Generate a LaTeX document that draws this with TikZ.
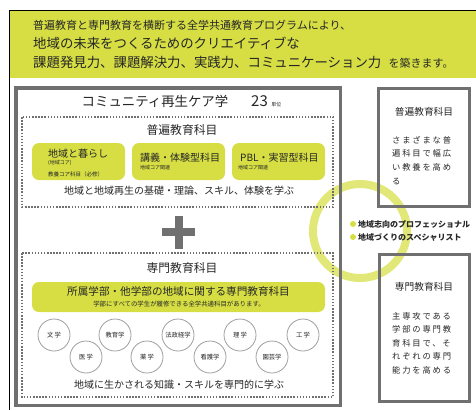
\documentclass[tikz,border=0pt]{standalone}
\usepackage{fontspec}
\setmainfont{Noto Sans CJK JP}
\newfontfamily\jpspaced[LetterSpace=22]{Noto Sans CJK JP}
\definecolor{bandyellow}{RGB}{214,222,68}
\definecolor{ringyellow}{RGB}{226,232,120}
\definecolor{framegray}{RGB}{112,112,112}
\definecolor{textdark}{RGB}{38,38,38}
\newcommand{\jpsize}[1]{\fontsize{#1}{#1}\selectfont}

\begin{document}
\begin{tikzpicture}[x=1pt,y=-1pt,
  every node/.style={inner sep=0pt,text=textdark},
  bigframe/.style={draw=framegray,line width=3.5pt},
  sideframe/.style={draw=framegray,line width=3pt},
  dotframe/.style={draw=framegray,line width=1.8pt,dash pattern=on 1.5pt off 1.6pt},
  corebox/.style={fill=bandyellow,rounded corners=7pt},
  faculty/.style={circle,draw=gray!75,fill=white,line width=0.8pt,minimum size=32pt,font=\jpsize{6.3}},
  sidetext/.style={anchor=north west,align=left,font=\jpspaced\fontsize{8.3}{13.6}\selectfont}]
\useasboundingbox (0,0) rectangle (476,410);

% ring behind everything
\draw[ringyellow,line width=8pt] (360,231) circle[radius=47];

% lead band
\fill[bandyellow] (9,10) rectangle (476,78);
\draw[black,line width=0.8pt] (9,410) -- (9,10) -- (476,10);
\node[anchor=west,font=\jpsize{11}] (lead) at (33,25) {普遍教育と専門教育を横断する全学共通教育プログラムにより、};
\node[anchor=west,font=\jpsize{13.4}] (vision) at (33,43) {地域の未来をつくるためのクリエイティブな};
\node[anchor=west,font=\jpsize{13.4}] (skills) at (33,62) {課題発見力、課題解決力、実践力、コミュニケーション力};
\node[anchor=base west,font=\jpsize{11}] (build) at ([xshift=7pt]skills.base east) {を築きます。};

% program frame
\draw[bigframe] (15.75,87.75) rectangle (340.25,405.25);
\node[font=\jpsize{13.4}] (title) at (155,101) {コミュニティ再生ケア学};
\node[anchor=base west,font=\jpsize{15}] (credits) at (251,106) {23};
\node[anchor=base west,font=\jpsize{5}] (unit) at ([xshift=3pt]credits.base east) {単位};

% general education
\draw[dotframe] (22,117) rectangle (333,207);
\node[font=\jpsize{11.8}] (gentitle) at (182,130) {普遍教育科目};

\node[corebox,minimum width=93pt,minimum height=37pt] (life) at (78.5,161.5) {};
\node[anchor=west,font=\jpsize{10}] (lifename) at (48,154) {地域と暮らし};
\node[anchor=west,font=\jpsize{5}] (lifecore) at (48,163) {(地域コア)};
\node[anchor=west,font=\jpsize{5.5}] (lifereq) at (48,174) {教養コア科目（必修）};

\node[corebox,minimum width=93pt,minimum height=37pt] (lecture) at (178.5,161.5) {};
\node[anchor=west,font=\jpsize{10}] (lecturename) at (140,158) {講義・体験型科目};
\node[anchor=west,font=\jpsize{5}] (lecturecore) at (140,168) {地域コア関連};

\node[corebox,minimum width=93pt,minimum height=37pt] (pbl) at (278.5,161.5) {};
\node[anchor=west,font=\jpsize{10}] (pblname) at (240,158) {PBL・実習型科目};
\node[anchor=west,font=\jpsize{5}] (pblcore) at (238,168) {地域コア関連};

\node[font=\jpsize{10}] (genaim) at (179,191) {地域と地域再生の基礎・理論、スキル、体験を学ぶ};

% plus
\fill[framegray] (162,228) rectangle (195,236);
\fill[framegray] (174.5,215.5) rectangle (182.5,248.5);

% specialized education
\draw[dotframe] (22,253) rectangle (333,397);
\node[font=\jpsize{11.8}] (spectitle) at (182,268) {専門教育科目};

\node[corebox,minimum width=293pt,minimum height=30pt] (faculties) at (178.5,297) {};
\node[font=\jpsize{10.6}] (facname) at (178.5,291) {所属学部・他学部の地域に関する専門教育科目};
\node[font=\jpsize{6.4}] (facnote) at (179,304) {学部にすべての学生が履修できる全学共通科目があります。};

\node[faculty] (lit) at (54,335) {文\,学};
\node[faculty] (med) at (86,357) {医\,学};
\node[faculty] (edu) at (115,335) {教育学};
\node[faculty] (phar) at (147,357) {薬\,学};
\node[faculty] (law) at (178,335) {法政経学};
\node[faculty] (nurs) at (210,357) {看護学};
\node[faculty] (sci) at (240,335) {理\,学};
\node[faculty] (hort) at (272,357) {園芸学};
\node[faculty] (eng) at (303,335) {工\,学};

\node[font=\jpsize{10}] (specaim) at (179,385) {地域に生かされる知識・スキルを専門的に学ぶ};

% outcomes
\node[circle,fill=bandyellow,minimum size=6pt] (dotpro) at (353,224) {};
\node[anchor=west,font=\jpsize{8}\bfseries] (pro) at (358,224) {地域志向のプロフェッショナル};
\node[circle,fill=bandyellow,minimum size=6pt] (dotspec) at (353,237) {};
\node[anchor=west,font=\jpsize{8}\bfseries] (spec) at (358,237) {地域づくりのスペシャリスト};

% side notes
\draw[sideframe] (378.5,88.5) rectangle (469.5,206.5);
\node[font=\jpsize{9.7}] (genside) at (424,112) {普遍教育科目};
\node[sidetext] (genbody) at (392,136) {さまざまな普\\遍科目で幅広\\い教養を高め\\る};

\draw[sideframe] (379.5,254.5) rectangle (469.5,401.5);
\node[font=\jpsize{9.7}] (specside) at (424,287) {専門教育科目};
\node[sidetext] (specbody) at (392,312) {主専攻である\\学部の専門教\\育科目で、そ\\れぞれの専門\\能力を高める};
\end{tikzpicture}
\end{document}
